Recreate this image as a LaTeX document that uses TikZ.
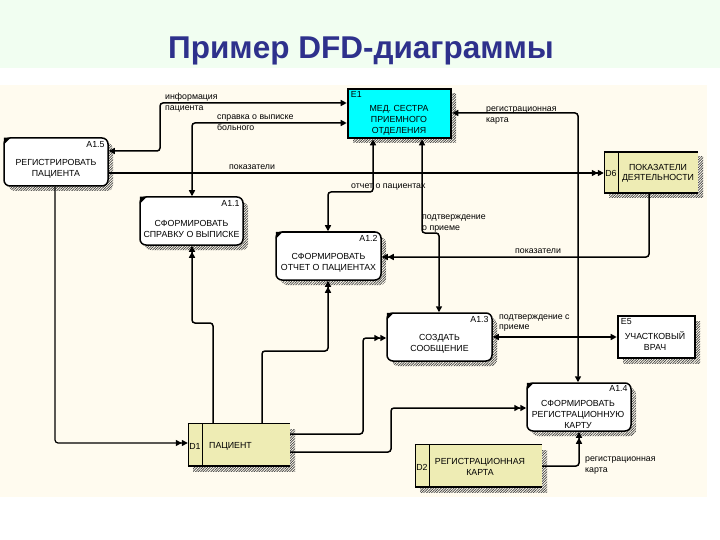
\documentclass[tikz,border=0pt]{standalone}
\usepackage{fontspec}
\setmainfont{Liberation Sans}
\usetikzlibrary{arrows.meta,shadows,patterns,patterns.meta}
\definecolor{titleblue}{RGB}{46,49,140}
\definecolor{bandgreen}{RGB}{241,254,241}
\definecolor{creambg}{RGB}{255,251,239}
\definecolor{storefill}{RGB}{238,236,180}
\definecolor{cyanfill}{RGB}{0,255,255}
\newcommand\dfdfont{\fontsize{8.8}{11}\selectfont}
\tikzset{
  shd/.style={drop shadow={shadow xshift=5pt,shadow yshift=-5pt,opacity=1,pattern={Lines[angle=45,distance=1.8pt,line width=0.7pt]},pattern color=black!75}},
  proc/.style={draw,line width=1.5pt,rounded corners=6pt,fill=white,shd,inner sep=0pt},
  ext/.style={draw,line width=2.6pt,inner sep=0pt,shd},
  store/.style={fill=storefill,inner sep=0pt,shd},
  bt/.style={font=\dfdfont,align=center,inner sep=0pt},
  lt/.style={font=\dfdfont,align=left,anchor=west,inner sep=0pt},
  idt/.style={font=\dfdfont,inner sep=0pt},
  conn/.style={line width=1.5pt,rounded corners=3pt},
  one/.style={conn,-{Triangle[length=6pt,width=6pt]}},
  bi/.style={conn,{Triangle[length=6pt,width=6pt]}-{Triangle[length=6pt,width=6pt]}},
  dbl/.style={conn,-{Triangle[length=6pt,width=6pt]Triangle[length=6pt,width=6pt]}}
}
\begin{document}
\begin{tikzpicture}[x=1pt,y=-1pt]
\useasboundingbox (0,0) rectangle (720,540);
\fill[white] (0,0) rectangle (720,540);
\fill[bandgreen] (0,0) rectangle (720,68);
\fill[creambg] (0,85) rectangle (707,497);
\node[font=\fontsize{31.5}{33}\selectfont\bfseries,text=titleblue,anchor=base,inner sep=0pt] (title) at (361,59) {Пример DFD-диаграммы};

% external entities
\node[ext,fill=cyanfill,minimum width=103pt,minimum height=49pt] (e1) at (399.5,113.5) {};
\node[idt,anchor=north west] (e1id) at ([xshift=4pt,yshift=-4pt]e1.north west) {E1};
\node[bt] (e1t) at (399,120) {МЕД. СЕСТРА\\ПРИЕМНОГО\\ОТДЕЛЕНИЯ};

\node[ext,fill=white,minimum width=77pt,minimum height=42pt] (e5) at (656.5,337) {};
\node[idt,anchor=north west] (e5id) at ([xshift=4pt,yshift=-4pt]e5.north west) {E5};
\node[bt] (e5t) at (655,341.5) {УЧАСТКОВЫЙ\\ВРАЧ};

% processes
\node[proc,minimum width=104pt,minimum height=48pt] (a15) at (56,162) {};
\node[idt,anchor=north east] (a15id) at ([xshift=-4pt,yshift=-4pt]a15.north east) {A1.5};
\node[bt] (a15t) at (56,168.5) {РЕГИСТРИРОВАТЬ\\ПАЦИЕНТА};

\node[proc,minimum width=103pt,minimum height=48pt] (a11) at (191.5,221) {};
\node[idt,anchor=north east] (a11id) at ([xshift=-4pt,yshift=-4pt]a11.north east) {A1.1};
\node[bt] (a11t) at (191.5,228.5) {СФОРМИРОВАТЬ\\СПРАВКУ О ВЫПИСКЕ};

\node[proc,minimum width=105pt,minimum height=48pt] (a12) at (328.5,256) {};
\node[idt,anchor=north east] (a12id) at ([xshift=-4pt,yshift=-4pt]a12.north east) {A1.2};
\node[bt] (a12t) at (328.5,263) {СФОРМИРОВАТЬ\\ОТЧЕТ О ПАЦИЕНТАХ};

\node[proc,minimum width=105pt,minimum height=48pt] (a13) at (439.5,337) {};
\node[idt,anchor=north east] (a13id) at ([xshift=-4pt,yshift=-4pt]a13.north east) {A1.3};
\node[bt] (a13t) at (439.5,344) {СОЗДАТЬ\\СООБЩЕНИЕ};

\node[proc,minimum width=104pt,minimum height=48pt] (a14) at (579,407) {};
\node[idt,anchor=north east] (a14id) at ([xshift=-4pt,yshift=-3pt]a14.north east) {A1.4};
\node[bt] (a14t) at (578,414) {СФОРМИРОВАТЬ\\РЕГИСТРАЦИОННУЮ\\КАРТУ};

\foreach \n in {a15,a11,a12,a13,a14}
  \fill ([xshift=0.5pt,yshift=-0.5pt]\n.north west) -- ++(7,0) -- ++(-7,7) -- cycle;

% data stores
\node[store,minimum width=102pt,minimum height=42pt] (d1) at (239,445) {};
\draw[thin] (d1.north west) -- (d1.south west) ([xshift=14pt]d1.north west) -- ([xshift=14pt]d1.south west);
\draw[line width=1pt] (d1.north west) -- (d1.north east);
\draw[line width=1.8pt] (d1.south west) -- (d1.south east);
\node[idt] (d1id) at (195,446) {D1};
\node[lt] (d1t) at (209,446) {ПАЦИЕНТ};

\node[store,minimum width=127pt,minimum height=42pt] (d2) at (478.5,466) {};
\draw[thin] (d2.north west) -- (d2.south west) ([xshift=14pt]d2.north west) -- ([xshift=14pt]d2.south west);
\draw[line width=1pt] (d2.north west) -- (d2.north east);
\draw[line width=1.8pt] (d2.south west) -- (d2.south east);
\node[idt] (d2id) at (422,467) {D2};
\node[bt] (d2t) at (480,466.5) {РЕГИСТРАЦИОННАЯ\\КАРТА};

\node[store,minimum width=94pt,minimum height=41pt] (d6) at (651,172.5) {};
\draw[thin] (d6.north west) -- (d6.south west) ([xshift=14pt]d6.north west) -- ([xshift=14pt]d6.south west);
\draw[line width=1.6pt] (d6.north west) -- (d6.north east);
\draw[line width=1.8pt] (d6.south west) -- (d6.south east);
\node[idt] (d6id) at (611,173) {D6};
\node[bt,font=\fontsize{8.8}{10}\selectfont] (d6t) at (658,173) {ПОКАЗАТЕЛИ\\ДЕЯТЕЛЬНОСТИ};

% connectors
\draw[bi] (a15.east |- 0,151) -- (160,151) -- (160,103) -- (e1.west |- 0,103);
\draw[bi] (a11.north -| 192,0) -- (192,123) -- (e1.west |- 0,123);
\draw[dbl] (a15.east |- 0,173) -- (d6.west |- 0,173);
\draw[bi] (e1.south -| 373,0) -- (373,192) -- (328,192) -- (a12.north -| 328,0);
\draw[bi] (e1.south -| 422,0) -- (422,233) -- (439,233) -- (a13.north -| 439,0);
\draw[bi] (e1.east |- 0,113) -- (578,113) -- (a14.north -| 578,0);
\draw[dbl] (d6.south -| 649,0) -- (649,257) -- (a12.east |- 0,257);
\draw[dbl] (d1.north -| 213,0) -- (213,323) -- (192,323) -- (a11.south -| 192,0);
\draw[dbl] (d1.north -| 262,0) -- (262,351) -- (328,351) -- (a12.south -| 328,0);
\draw[dbl] (d1.east |- 0,434) -- (363,434) -- (363,338) -- (a13.west |- 0,338);
\draw[dbl] (d1.east |- 0,452) -- (391,452) -- (391,408) -- (a14.west |- 0,408);
\draw[dbl,line width=1.2pt] (a15.south -| 55,0) -- (55,443) -- (d1.west |- 0,443);
\draw[bi] (a13.east |- 0,337) -- (e5.west |- 0,337);
\draw[dbl] (d2.east |- 0,466) -- (579,466) -- (a14.south -| 579,0);

% labels
\node[lt] (l1) at (165,103) {информация\\пациента};
\node[lt] (l2) at (217,123) {справка о выписке\\больного};
\node[lt] (l3) at (229,167) {показатели};
\node[lt] (l4) at (351,187) {отчет о пациентах};
\node[lt] (l5) at (422,224) {подтверждение\\о приеме};
\node[lt] (l6) at (486,115.5) {регистрационная\\карта};
\node[lt] (l7) at (515,251) {показатели};
\node[lt,font=\fontsize{8.8}{9.5}\selectfont] (l8) at (499,323) {подтверждение с\\приеме};
\node[lt] (l9) at (585,466) {регистрационная\\карта};
\end{tikzpicture}
\end{document}
